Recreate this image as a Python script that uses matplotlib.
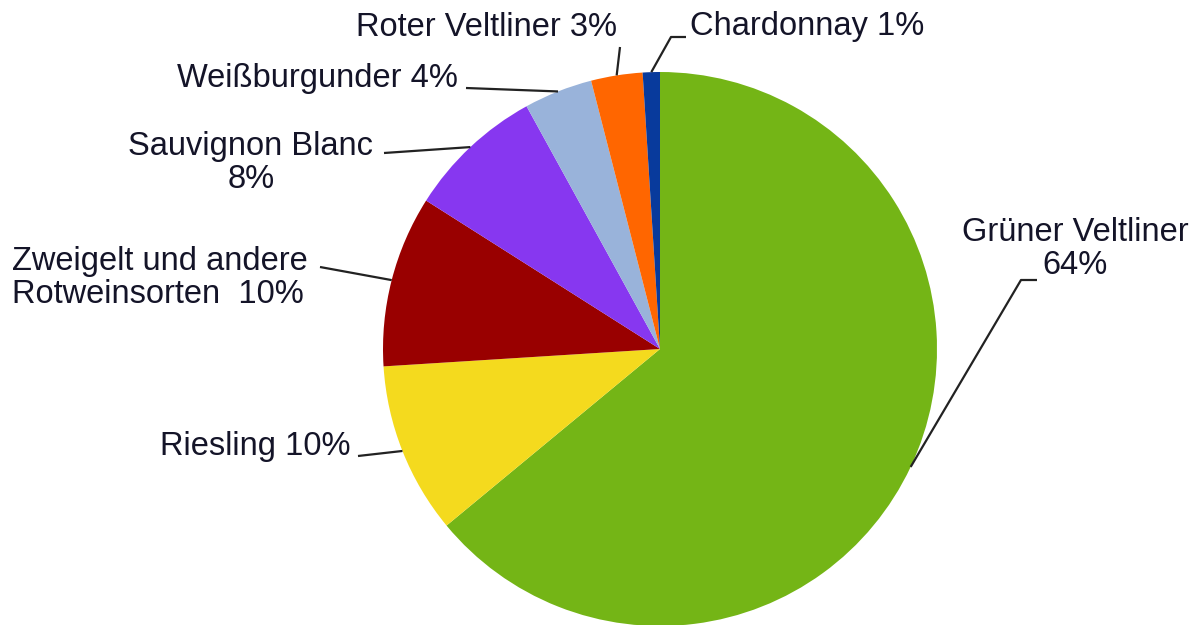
import numpy as np
import matplotlib
matplotlib.use("Agg")
import matplotlib.pyplot as plt

# ---- data ----
categories = ["Grüner Veltliner", "Riesling", "Zweigelt und andere Rotweinsorten",
              "Sauvignon Blanc", "Weißburgunder", "Roter Veltliner", "Chardonnay"]
shares = [64, 10, 10, 8, 4, 3, 1]
labels = ["Grüner Veltliner\n64%", "Riesling 10%", "Zweigelt und andere\nRotweinsorten  10%",
          "Sauvignon Blanc\n8%", "Weißburgunder 4%", "Roter Veltliner 3%", "Chardonnay 1%"]
colors = ["#74B516", "#F4DA1E", "#990000", "#8737F0", "#99B3DA", "#FF6600", "#083A9C"]

W, H = 1202, 625
fig = plt.figure(figsize=(W / 100, H / 100), dpi=100)
ax = fig.add_axes([0, 0, 1, 1])

cx, cy_top, R = 660, 349, 277
cy = H - cy_top

wedges, _ = ax.pie(shares, colors=colors, startangle=90, counterclock=False,
                   center=(cx, cy), radius=R, frame=True,
                   wedgeprops=dict(linewidth=0))
ax.set_xlim(0, W)
ax.set_ylim(0, H)
ax.set_aspect("equal")
ax.axis("off")

def Y(y_top):
    return H - y_top

# label layout: text position (y from top), alignment, leader points from the text side
layout = [
    dict(x=1075, y=249, ha="center", path=[(1037, 280), (1021, 280)]),
    dict(x=350, y=446, ha="right", path=[(358, 456)]),
    dict(x=12, y=278, ha="left", path=[(320, 267)]),
    dict(x=251, y=163, ha="center", path=[(384, 153)]),
    dict(x=458, y=78, ha="right", path=[(466, 88)]),
    dict(x=486, y=27, ha="center", path=[(620, 47)]),
    dict(x=690, y=27, ha="left", path=[(686, 37), (671, 37)]),
]

txt_color = "#141428"
cum = np.cumsum([0] + shares[:-1])
for lab, lay, c0, s in zip(labels, layout, cum, shares):
    ax.text(lay["x"], Y(lay["y"]), lab, ha=lay["ha"], va="center",
            fontsize=23.5, family="Liberation Sans", color=txt_color,
            linespacing=1.12, multialignment=lay["ha"] if lay["ha"] != "right" else "left")
    mid = np.deg2rad(90 - (c0 + s / 2) / 100 * 360)
    rim = (cx + R * np.cos(mid), cy + R * np.sin(mid))
    pts = [(px, Y(py)) for px, py in lay["path"]] + [rim]
    xs, ys = zip(*pts)
    ax.plot(xs, ys, color="#222222", lw=1.6, solid_capstyle="butt")

fig.savefig("out.png", dpi=100, facecolor="white")
